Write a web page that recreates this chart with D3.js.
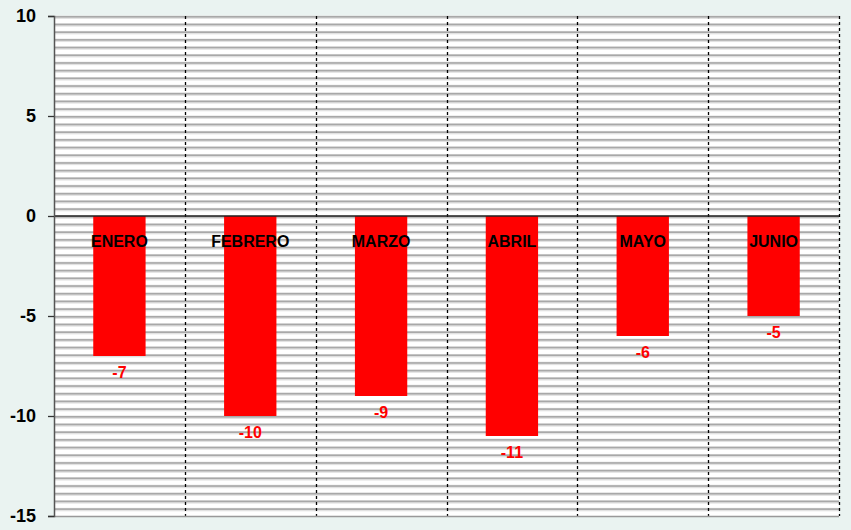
<!DOCTYPE html>
<html><head><meta charset="utf-8">
<script src="https://cdn.jsdelivr.net/npm/d3@7"></script>
<style>
html,body{margin:0;padding:0;background:#eaf3f1;}
svg{display:block;}
text{font-family:"Liberation Sans",Arial,sans-serif;font-weight:bold;}
</style></head>
<body>
<svg id="c" width="851" height="530"></svg>
<script>
const categories = ["ENERO","FEBRERO","MARZO","ABRIL","MAYO","JUNIO"];
const values = [-7,-10,-9,-11,-6,-5];
const yTicks = [10,5,0,-5,-10,-15];

const W = 851, H = 530;
const m = {left:54, right:12, top:16, bottom:14};
const pw = W - m.left - m.right, ph = H - m.top - m.bottom;
const svg = d3.select("#c");
svg.append("rect").attr("width",W).attr("height",H).attr("fill","#eaf3f1");
const g = svg.append("g").attr("transform",`translate(${m.left},${m.top})`);

const y = d3.scaleLinear().domain([-15,10]).range([ph,0]);
const x = d3.scaleBand().domain(categories).range([0,pw]).paddingInner(0.6).paddingOuter(0.3);
const xb = d3.scaleBand().domain(categories).range([0,pw]);

// plot background with horizontal stripes
g.append("rect").attr("width",pw).attr("height",ph).attr("fill","#ffffff");
const nStripes = 65;
const stripes = d3.range(nStripes).map(i => i*ph/nStripes);
const sg = g.append("g");
stripes.forEach(s => {
  sg.append("rect").attr("x",0).attr("y",s-0.5).attr("width",pw).attr("height",3.5).attr("fill","#e2e2e2");
  sg.append("rect").attr("x",0).attr("y",s).attr("width",pw).attr("height",1.6).attr("fill","#a8a8a8");
});

// vertical dotted separators
const seps = categories.map(c => xb(c)+xb.bandwidth());
g.selectAll("line.sep").data(seps).join("line")
  .attr("x1",d=>Math.round(d)+0.5).attr("x2",d=>Math.round(d)+0.5)
  .attr("y1",0).attr("y2",ph)
  .attr("stroke","#000").attr("stroke-width",1.3).attr("stroke-dasharray","3,3");

// bottom border
g.append("line").attr("x1",0).attr("x2",pw).attr("y1",ph+0.5).attr("y2",ph+0.5)
  .attr("stroke","#999").attr("stroke-width",1.5);

// bars
g.selectAll("rect.bar").data(values).join("rect")
  .attr("x",(d,i)=>x(categories[i]))
  .attr("width",x.bandwidth())
  .attr("y",y(0))
  .attr("height",d=>y(d)-y(0))
  .attr("fill","#ff0000");

// zero line
g.append("line").attr("x1",0).attr("x2",pw).attr("y1",y(0)).attr("y2",y(0))
  .attr("stroke","#222").attr("stroke-width",1.5);

// y axis
const ax = g.append("g").call(d3.axisLeft(y).tickValues(yTicks).tickSize(6).tickPadding(12).tickFormat(d => String(d)));
ax.select(".domain").attr("stroke","#555").attr("stroke-width",1.5);
ax.selectAll(".tick line").attr("stroke","#333").attr("stroke-width",1.3);
ax.selectAll(".tick text").attr("font-size","18px").attr("fill","#000")
  .attr("font-family","'Liberation Sans',Arial,sans-serif").attr("font-weight","bold");

// category labels
g.selectAll("text.cat").data(categories).join("text")
  .attr("x",d=>xb(d)+xb.bandwidth()/2)
  .attr("y",y(0)+25).attr("dy","0.35em")
  .attr("text-anchor","middle").attr("font-size","16px").attr("fill","#000")
  .text(d=>d);

// value labels
g.selectAll("text.val").data(values).join("text")
  .attr("x",(d,i)=>x(categories[i])+x.bandwidth()/2)
  .attr("y",d=>y(d)+16).attr("dy","0.35em")
  .attr("text-anchor","middle").attr("font-size","16px").attr("fill","#ff0000")
  .text(d=>d);
</script>
</body></html>
